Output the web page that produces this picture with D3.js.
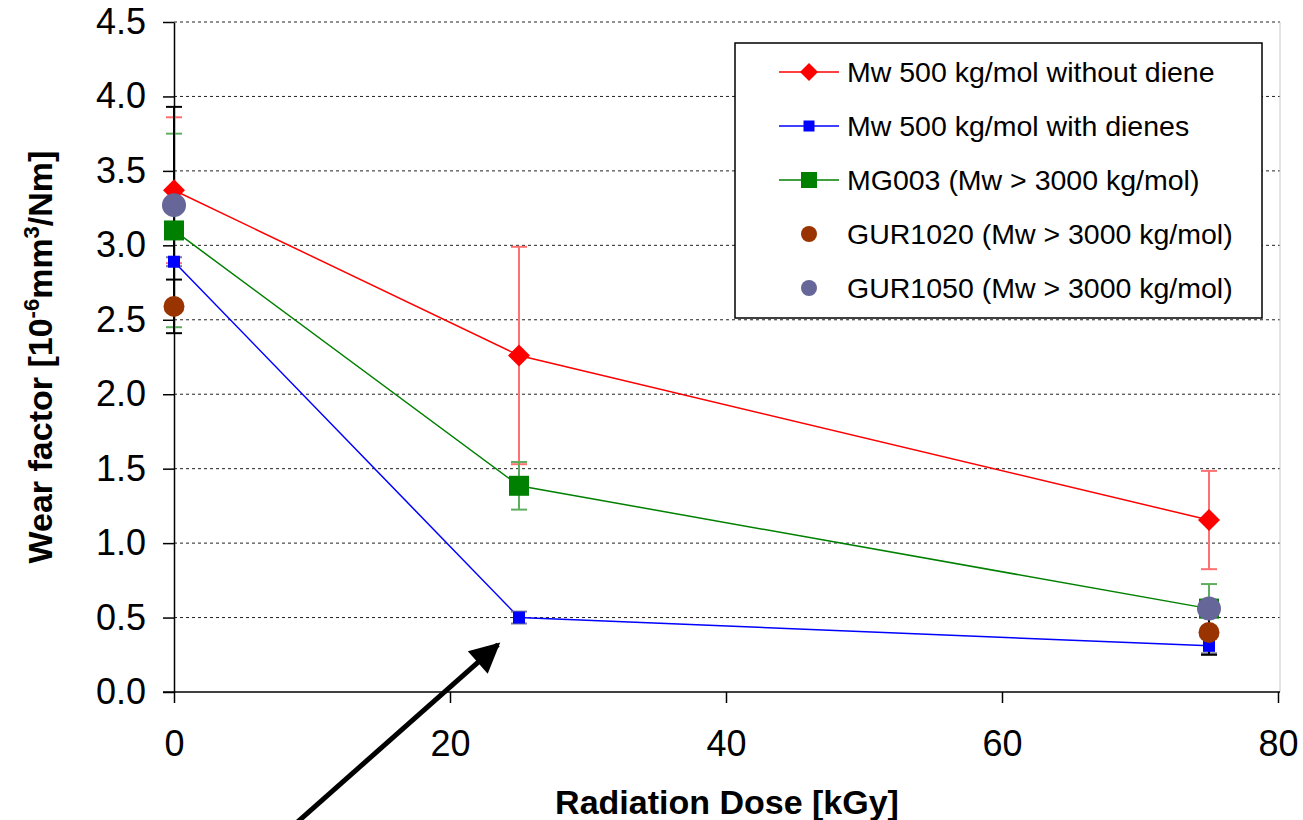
<!DOCTYPE html>
<html>
<head>
<meta charset="utf-8">
<script src="https://cdn.jsdelivr.net/npm/d3@7"></script>
<style>
  html, body { margin: 0; padding: 0; background: #fff; }
  svg { display: block; font-family: "Liberation Sans", Arial, sans-serif; }
</style>
</head>
<body>
<div id="chart"></div>
<script>
// chart data
const doses = [0, 25, 75];
const withoutDiene = [3.37, 2.26, 1.155];
const withoutDieneErr = [0.49, 0.73, 0.33];
const withDienes = [2.89, 0.5, 0.31];
const withDienesErr = [0.03, 0.04, 0.05];
const mg003 = [3.1, 1.385, 0.56];
const mg003Err = [0.65, 0.16, 0.165];
const gurDoses = [0, 75];
const gur1020 = [2.59, 0.4];
const gur1020Err = [0.18, 0.15];
const gur1050 = [3.27, 0.56];
const gur1050Err = [0.66, 0.05];

const xTicks = [0, 20, 40, 60, 80];
const yTicks = [0, 0.5, 1, 1.5, 2, 2.5, 3, 3.5, 4, 4.5];

const seriesNames = [
  "Mw 500 kg/mol without diene",
  "Mw 500 kg/mol with dienes",
  "MG003 (Mw > 3000 kg/mol)",
  "GUR1020 (Mw > 3000 kg/mol)",
  "GUR1050 (Mw > 3000 kg/mol)",
];

const WIDTH = 1303;
const HEIGHT = 820;
const MARGIN = { top: 22, right: 25, bottom: 128, left: 174 };
const plotW = WIDTH - MARGIN.left - MARGIN.right;
const plotH = HEIGHT - MARGIN.top - MARGIN.bottom;

const series = [
  { name: seriesNames[0], xs: doses, ys: withoutDiene, err: withoutDieneErr,
    color: "#ff0000", errColor: "#ff7070", line: true, shape: "diamond", size: 22, legendSize: 18 },
  { name: seriesNames[1], xs: doses, ys: withDienes, err: withDienesErr,
    color: "#0000ff", errColor: "#7a7a9a", line: true, shape: "square", size: 12, legendSize: 11 },
  { name: seriesNames[2], xs: doses, ys: mg003, err: mg003Err,
    color: "#008000", errColor: "#5fae5f", line: true, shape: "square", size: 20, legendSize: 16 },
  { name: seriesNames[3], xs: gurDoses, ys: gur1020, err: gur1020Err,
    color: "#993300", errColor: "#000000", line: false, shape: "circle", size: 21, legendSize: 16 },
  { name: seriesNames[4], xs: gurDoses, ys: gur1050, err: gur1050Err,
    color: "#666699", errColor: "#000000", line: false, shape: "circle", size: 24, legendSize: 16 },
];

const svg = d3.select("#chart").append("svg")
  .attr("width", WIDTH)
  .attr("height", HEIGHT);

const g = svg.append("g")
  .attr("transform", `translate(${MARGIN.left},${MARGIN.top})`);

const x = d3.scaleLinear().domain([0, 80]).range([0, plotW]);
const y = d3.scaleLinear().domain([0, 4.5]).range([plotH, 0]);

// gridlines
g.append("g")
  .selectAll("line")
  .data(yTicks.filter((d) => d > 0))
  .join("line")
  .attr("x1", 0)
  .attr("x2", plotW + 2)
  .attr("y1", (d) => y(d))
  .attr("y2", (d) => y(d))
  .attr("stroke", "#222")
  .attr("stroke-width", 1)
  .attr("stroke-dasharray", "3,3");

// light right border of plot area
g.append("line")
  .attr("x1", plotW + 2).attr("x2", plotW + 2)
  .attr("y1", 0).attr("y2", plotH)
  .attr("stroke", "#c8c8c8");

// axes
const xAxis = g.append("g")
  .attr("transform", `translate(0,${plotH})`)
  .call(d3.axisBottom(x).tickValues(xTicks).tickSize(11).tickSizeOuter(0).tickPadding(27));
const yAxis = g.append("g")
  .call(d3.axisLeft(y).tickValues(yTicks).tickFormat(d3.format(".1f")).tickSize(11).tickSizeOuter(0).tickPadding(17));

[xAxis, yAxis].forEach((ax) => {
  ax.select(".domain").attr("stroke", "#000").attr("stroke-width", 1.5);
  ax.selectAll(".tick line").attr("stroke", "#000").attr("stroke-width", 1.5);
  ax.selectAll(".tick text")
    .attr("fill", "#000")
    .attr("font-size", 36)
    .attr("font-family", "Liberation Sans, Arial, sans-serif");
});
// extend x axis line left to meet the y tick
xAxis.select(".domain").attr("d", `M-11,0H${plotW + 2}`);

// series lines
series.filter((s) => s.line).forEach((s) => {
  const pts = s.xs.map((d, i) => [x(d), y(s.ys[i])]);
  g.append("path")
    .attr("d", d3.line()(pts))
    .attr("fill", "none")
    .attr("stroke", s.color)
    .attr("stroke-width", 1.5);
});

// error bars
series.forEach((s) => {
  const eg = g.append("g");
  s.xs.forEach((d, i) => {
    const cx = x(d);
    const top = y(s.ys[i] + s.err[i]);
    const bot = y(s.ys[i] - s.err[i]);
    eg.append("line")
      .attr("x1", cx).attr("x2", cx).attr("y1", top).attr("y2", bot)
      .attr("stroke", s.errColor).attr("stroke-width", 2);
    [top, bot].forEach((yy) => {
      eg.append("line")
        .attr("x1", cx - 8).attr("x2", cx + 8).attr("y1", yy).attr("y2", yy)
        .attr("stroke", s.errColor).attr("stroke-width", 2);
    });
  });
});

function drawMarker(sel, shape, size, color) {
  if (shape === "diamond") {
    const h = size / 2;
    sel.append("path")
      .attr("d", `M0,${-h}L${h},0L0,${h}L${-h},0Z`)
      .attr("fill", color);
  } else if (shape === "square") {
    sel.append("rect")
      .attr("x", -size / 2).attr("y", -size / 2)
      .attr("width", size).attr("height", size)
      .attr("fill", color);
  } else {
    sel.append("circle").attr("r", size / 2).attr("fill", color);
  }
}

// markers
series.forEach((s) => {
  s.xs.forEach((d, i) => {
    const m = g.append("g")
      .attr("transform", `translate(${x(d)},${y(s.ys[i])})`);
    drawMarker(m, s.shape, s.size, s.color);
  });
});

// legend
const legend = svg.append("g").attr("transform", "translate(735,43)");
legend.append("rect")
  .attr("width", 527).attr("height", 275)
  .attr("fill", "#fff").attr("stroke", "#000").attr("stroke-width", 1.5);
series.forEach((s, i) => {
  const row = legend.append("g").attr("transform", `translate(0,${29 + i * 54})`);
  if (s.line) {
    row.append("line")
      .attr("x1", 44).attr("x2", 104).attr("y1", 0).attr("y2", 0)
      .attr("stroke", s.color).attr("stroke-width", 1.5);
  }
  drawMarker(row.append("g").attr("transform", "translate(74,0)"), s.shape, s.legendSize, s.color);
  row.append("text")
    .attr("x", 112).attr("y", 0)
    .attr("dy", "0.35em")
    .attr("font-size", 28.5)
    .attr("fill", "#000")
    .text(s.name);
});

// axis titles
svg.append("text")
  .attr("x", MARGIN.left + plotW / 2 + 1)
  .attr("y", 814)
  .attr("text-anchor", "middle")
  .attr("font-size", 34)
  .attr("font-weight", "bold")
  .text("Radiation Dose [kGy]");

const yTitle = svg.append("text")
  .attr("transform", "translate(52,357) rotate(-90)")
  .attr("text-anchor", "middle")
  .attr("font-size", 34)
  .attr("font-weight", "bold");
yTitle.append("tspan").text("Wear factor [10");
yTitle.append("tspan").attr("dy", -13).attr("font-size", 22).text("-6");
yTitle.append("tspan").attr("dy", 13).text("mm");
yTitle.append("tspan").attr("dy", -13).attr("font-size", 22).text("3");
yTitle.append("tspan").attr("dy", 13).text("/Nm]");

// annotation arrow pointing at the 25 kGy point with dienes
const tipX = x(25) - 21 + MARGIN.left;
const tipY = y(0.5) + 27 + MARGIN.top;
svg.append("defs").append("marker")
  .attr("id", "arrowhead")
  .attr("viewBox", "0 0 10 10")
  .attr("refX", 9).attr("refY", 5)
  .attr("markerWidth", 6.5).attr("markerHeight", 6)
  .attr("markerUnits", "strokeWidth")
  .attr("orient", "auto")
  .append("path")
  .attr("d", "M0,0L10,5L0,10Z")
  .attr("fill", "#000");
svg.append("line")
  .attr("x1", tipX - 226).attr("y1", tipY + 200)
  .attr("x2", tipX).attr("y2", tipY)
  .attr("stroke", "#000")
  .attr("stroke-width", 5)
  .attr("marker-end", "url(#arrowhead)");
</script>
</body>
</html>
